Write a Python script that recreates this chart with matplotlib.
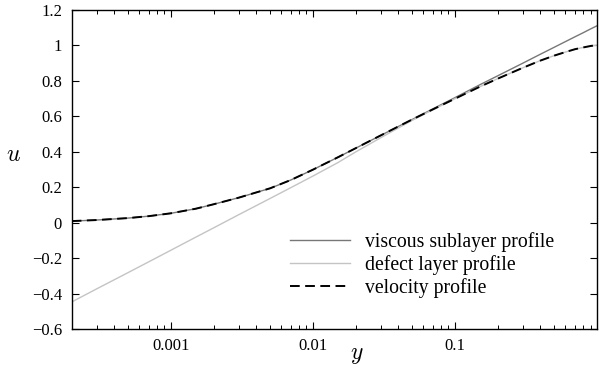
import matplotlib
matplotlib.use("Agg")
import matplotlib.pyplot as plt
from matplotlib.ticker import FixedLocator, FixedFormatter, LogLocator, NullFormatter

plt.rcParams['font.family'] = ['Liberation Serif', 'DejaVu Serif']
plt.rcParams['mathtext.fontset'] = 'cm'

# wall distance samples
y_vals = [2e-4, 3e-4, 5e-4, 7e-4, 1e-3, 1.5e-3, 2e-3, 3e-3, 5e-3, 7e-3,
          1e-2, 1.5e-2, 2e-2, 3e-2, 5e-2, 7e-2, 0.1, 0.15, 0.2, 0.3,
          0.4, 0.5, 0.6, 0.7, 0.8, 0.9, 1.0]

velocity = [0.010, 0.016, 0.027, 0.038, 0.054, 0.080, 0.105, 0.142, 0.195, 0.242,
            0.300, 0.370, 0.421, 0.493, 0.583, 0.640, 0.700, 0.768, 0.813, 0.874,
            0.915, 0.943, 0.963, 0.979, 0.989, 0.997, 1.002]

viscous = [0.010, 0.016, 0.027, 0.038, 0.054, 0.080, 0.105, 0.142, 0.195, 0.242,
           0.300, 0.370, 0.421, 0.493, 0.583, 0.643, 0.706, 0.779, 0.829, 0.900,
           0.951, 0.990, 1.022, 1.049, 1.072, 1.093, 1.111]

defect = [-0.446, -0.372, -0.280, -0.219, -0.154, -0.080, -0.028, 0.046, 0.138, 0.199,
          0.264, 0.340, 0.400, 0.480, 0.578, 0.638, 0.700, 0.768, 0.813, 0.874,
          0.915, 0.943, 0.963, 0.979, 0.989, 0.997, 1.002]

labels = ["viscous sublayer profile", "defect layer profile", "velocity profile"]

xticks = [0.001, 0.01, 0.1]
xticklabels = ["0.001", "0.01", "0.1"]
yticks = [-0.6, -0.4, -0.2, 0, 0.2, 0.4, 0.6, 0.8, 1, 1.2]
yticklabels = ["\u22120.6", "\u22120.4", "\u22120.2", "0", "0.2", "0.4", "0.6", "0.8", "1", "1.2"]

W, H = 599, 371
fig = plt.figure(figsize=(W / 100, H / 100), dpi=100)
ax = fig.add_axes([71.7 / W, 1 - 329.3 / H, (597 - 71.7) / W, (329.3 - 10) / H])

ax.plot(y_vals, viscous, color='#777777', lw=1.0, label=labels[0])
ax.plot(y_vals, defect, color='#c4c4c4', lw=1.0, label=labels[1])
ax.plot(y_vals, velocity, color='black', lw=1.4, linestyle=(0, (5.0, 2.8)), label=labels[2])

ax.set_xscale('log')
ax.set_xlim(2e-4, 1)
ax.set_ylim(-0.6, 1.2)

ax.xaxis.set_major_locator(FixedLocator(xticks))
ax.xaxis.set_major_formatter(FixedFormatter(xticklabels))
ax.xaxis.set_minor_locator(LogLocator(base=10, subs=range(2, 10)))
ax.xaxis.set_minor_formatter(NullFormatter())
ax.yaxis.set_major_locator(FixedLocator(yticks))
ax.yaxis.set_major_formatter(FixedFormatter(yticklabels))

ax.tick_params(which='both', direction='in', top=True, right=True, labelsize=12)
ax.tick_params(which='major', length=5, width=0.8)
ax.tick_params(which='minor', length=3, width=0.7)
ax.tick_params(axis='y', pad=7)
ax.tick_params(axis='x', pad=6)
for s in ax.spines.values():
    s.set_linewidth(1.0)

fig.text(13.5 / W, 1 - 155 / H, r'$u$', fontsize=17, ha='center', va='center')
fig.text(357 / W, 1 - 355 / H, r'$y$', fontsize=17, ha='center', va='center')

leg = ax.legend(loc='upper left',
                bbox_to_anchor=((290 - 71.7) / (597 - 71.7), (329.3 - 232) / (329.3 - 10)),
                frameon=False, fontsize=14.2, handlelength=3.05, handletextpad=0.75,
                labelspacing=0.16, borderaxespad=0, borderpad=0)

fig.savefig('out.png', dpi=100)
